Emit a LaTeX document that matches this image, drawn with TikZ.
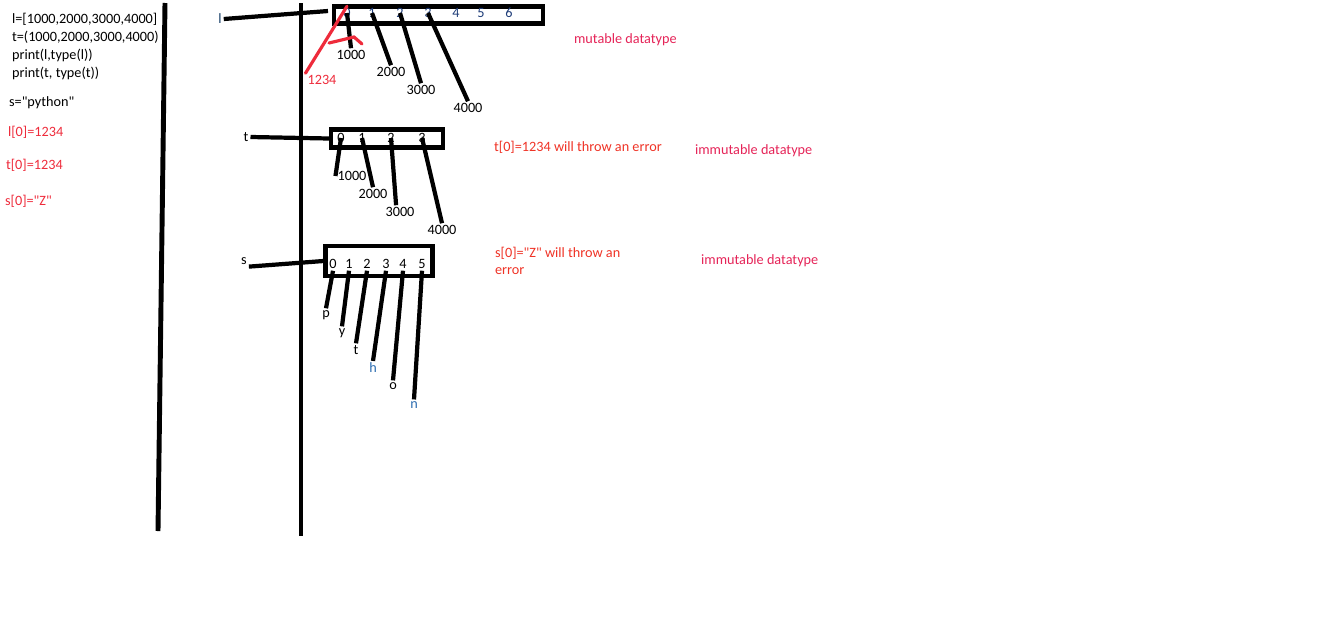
\documentclass[tikz,border=0pt]{standalone}
\usepackage{fontspec}
\setmainfont{Carlito}[Ligatures=TeXOff]
\usepackage{xcolor}
\usepackage{tikz}
\usetikzlibrary{positioning}
\definecolor{codeRed}{HTML}{EE2B3B}
\definecolor{noteRed}{HTML}{EF3326}
\definecolor{typeRed}{HTML}{E52458}
\definecolor{idxBlue}{HTML}{1E3C78}
\definecolor{charBlue}{HTML}{2B6CB0}

\begin{document}
\begin{tikzpicture}[
    x=0.02cm, y=-0.02cm,
    every node/.style={font=\fontsize{8.1}{10}\selectfont, inner sep=1pt},
    code/.style={anchor=west},
    wall/.style={line width=2.8pt},
    ptr/.style={line width=2.4pt},
    redmark/.style={codeRed, line width=1.8pt, line cap=round},
    membox/.style={draw, line width=2.3pt, inner sep=0pt}
  ]
  \useasboundingbox (0,0) rectangle (1344,619);

  % ── Code column (left) ──────────────────────────────────────────────────
  \node[code] (codel)  at (10, 19) {l=[1000,2000,3000,4000]};
  \node[code] (codet)  at (10, 37) {t=(1000,2000,3000,4000)};
  \node[code] (prl)    at (10, 55) {print(l,type(l))};
  \node[code] (prt)    at (10, 73) {print(t, type(t))};
  \node[code] (codes)  at (7, 103) {s="python"};
  \node[code, codeRed] (setl) at (6, 132) {l[0]=1234};
  \node[code, codeRed] (sett) at (4, 165) {t[0]=1234};
  \node[code, codeRed] (sets) at (3, 201) {s[0]="Z"};

  % dividers
  \draw[wall] (165, 3) -- (158, 531);
  \draw[wall] (301, 3) -- (301, 536);

  % ── List l ──────────────────────────────────────────────────────────────
  \node[charBlue!60!black] (lname) at (220, 19) {l};
  \node[membox, minimum width=4.18cm, minimum height=0.34cm] (lbox) at (438.5, 15) {};
  \draw[ptr] (lname.east) -- ([shift={(-4,-4)}]lbox.west);
  \foreach \i/\x in {0/347, 1/372, 2/400, 3/428, 4/456, 5/481, 6/509}
    \node[idxBlue] (l\i) at (\x, 13) {\i};

  \node (lv0) at (351, 55)  {1000};
  \node (lv1) at (391, 72)  {2000};
  \node (lv2) at (421, 90)  {3000};
  \node (lv3) at (468, 108) {4000};
  \draw[ptr] (l0.center) -- (lv0.north);
  \draw[ptr] (l1.center) -- (lv1.north);
  \draw[ptr] (l2.center) -- (lv2.north);
  \draw[ptr] (l3.center) -- (lv3.north);

  % l[0]=1234 scribbled over
  \node[codeRed] (lnew) at (322, 80) {1234};
  \draw[redmark] (lnew.north west) -- (l0.north);
  \draw[redmark] (329, 43) -- (354, 37) -- (362, 44);

  \node[code, typeRed] (lkind) at (572, 40) {mutable datatype};

  % ── Tuple t ─────────────────────────────────────────────────────────────
  \node (tname) at (246, 137) {t};
  \node[membox, minimum width=2.24cm, minimum height=0.36cm] (tbox) at (387, 138.5) {};
  \draw[ptr] (tname.east) -- (tbox.west);
  \foreach \i/\x in {0/341, 1/362, 2/391, 3/422}
    \node (t\i) at (\x, 138) {\i};

  \node (tv0) at (352, 176) {1000};
  \node (tv1) at (373, 194) {2000};
  \node (tv2) at (400, 212) {3000};
  \node (tv3) at (442, 230) {4000};
  \draw[ptr] (t0.center) -- (tv0.west);
  \draw[ptr] (t1.center) -- (tv1.north);
  \draw[ptr] (t2.center) -- (tv2.120);
  \draw[ptr] (t3.center) -- (tv3.north);

  \node[code, noteRed] (terr)  at (492, 147) {t[0]=1234 will throw an error};
  \node[code, typeRed] (tkind) at (693, 151) {immutable datatype};

  % ── String s ────────────────────────────────────────────────────────────
  \node (sname) at (244, 261) {s};
  \node[membox, minimum width=2.14cm, minimum height=0.6cm] (sbox) at (379, 261) {};
  \draw[ptr] (sname.south east) -- (sbox.west);
  \foreach \i/\x in {0/333, 1/349, 2/367, 3/386, 4/403, 5/422}
    \node (s\i) at (\x, 264) {\i};

  \node (sc0) at (326, 315) {p};
  \node (sc1) at (342, 333) {y};
  \node (sc2) at (356, 350) {t};
  \node[charBlue] (sc3) at (373, 368) {h};
  \node (sc4) at (393, 386) {o};
  \node[charBlue] (sc5) at (414, 405) {n};
  \foreach \i in {0,...,5}
    \draw[ptr] (s\i.south) -- (sc\i.north);

  \node[code, noteRed, align=left] (serr) at (493, 261)
    {s[0]="Z" will throw an\\error};
  \node[code, typeRed] (skind) at (699, 261) {immutable datatype};

\end{tikzpicture}
\end{document}
